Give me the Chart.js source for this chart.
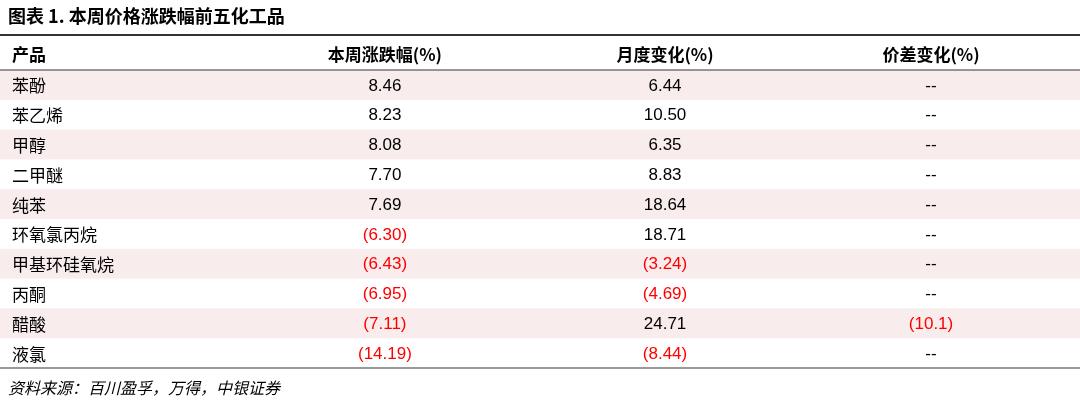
<!DOCTYPE html>
<html>
<head>
<meta charset="utf-8">
<script src="https://cdn.jsdelivr.net/npm/chart.js@4/dist/chart.umd.min.js"></script>
<style>
  html, body { margin: 0; padding: 0; background: #fff; }
  #wrap { width: 1080px; height: 405px; }
</style>
</head>
<body>
<div id="wrap"><canvas id="tbl"></canvas></div>
<script>
// table data
const products = ['苯酚', '苯乙烯', '甲醇', '二甲醚', '纯苯', '环氧氯丙烷', '甲基环硅氧烷', '丙酮', '醋酸', '液氯'];
const weekChange = [8.46, 8.23, 8.08, 7.70, 7.69, -6.30, -6.43, -6.95, -7.11, -14.19];
const monthChange = [6.44, 10.50, 6.35, 8.83, 18.64, 18.71, -3.24, -4.69, 24.71, -8.44];
const spreadChange = [null, null, null, null, null, null, null, null, -10.1, null];
const headers = ['产品', '本周涨跌幅(%)', '月度变化(%)', '价差变化(%)'];
const colX = [0.015, 1.417, 2.47, 3.47];

const title = '图表 1. 本周价格涨跌幅前五化工品';
const source = '资料来源：百川盈孚，万得，中银证券';

const CJK = '"Noto Sans CJK SC", sans-serif';
const NUM = '"Liberation Sans", Arial, sans-serif';

function fmt(v, digits) {
    if (v === null) return '--';
    const s = Math.abs(v).toFixed(digits);
    return v < 0 ? '(' + s + ')' : s;
}
function colour(v) {
    return v !== null && v < 0 ? '#FF0000' : '#000000';
}

function makeSet(col, values, digits, isText) {
    return {
        data: products.map((p, i) => ({ x: colX[col], y: p })),
        labelsText: values.map(v => isText ? v : fmt(v, digits)),
        labelsColor: values.map(v => isText ? '#000' : colour(v)),
        align: col === 0 ? 'left' : 'center',
        font: isText ? '17px ' + CJK : '17px ' + NUM,
        pointRadius: 0
    };
}

const tablePlugin = {
    id: 'tablePlugin',
    beforeDatasetsDraw(chart) {
        const ctx = chart.ctx;
        const y = chart.scales.y;
        const x = chart.scales.x;
        const step = Math.abs(y.getPixelForValue(1) - y.getPixelForValue(0));
        const left = 0, right = 1080;
        ctx.save();
        // alternating row bands
        products.forEach((p, i) => {
            if (i % 2 === 0) {
                const cy = y.getPixelForValue(i);
                ctx.fillStyle = '#F8ECEC';
                ctx.fillRect(left, cy - step / 2, right - left, step);
            }
        });
        // title
        ctx.fillStyle = '#000';
        ctx.font = 'bold 18px ' + CJK;
        ctx.textBaseline = 'middle';
        ctx.textAlign = 'left';
        ctx.fillText(title, 8, 16);
        // rules
        ctx.strokeStyle = '#333';
        ctx.lineWidth = 2;
        ctx.beginPath(); ctx.moveTo(left, 35); ctx.lineTo(right, 35); ctx.stroke();
        ctx.lineWidth = 1;
        ctx.beginPath(); ctx.moveTo(left, y.top); ctx.lineTo(right, y.top); ctx.stroke();
        ctx.beginPath(); ctx.moveTo(left, y.bottom); ctx.lineTo(right, y.bottom); ctx.stroke();
        // header
        ctx.font = 'bold 17px ' + CJK;
        headers.forEach((h, i) => {
            ctx.textAlign = i === 0 ? 'left' : 'center';
            ctx.fillText(h, x.getPixelForValue(colX[i]), 55);
        });
        // source
        ctx.font = 'italic 16px ' + CJK;
        ctx.textAlign = 'left';
        ctx.fillText(source, 8, 388);
        ctx.restore();
    },
    afterDatasetsDraw(chart) {
        const ctx = chart.ctx;
        ctx.save();
        ctx.textBaseline = 'middle';
        chart.data.datasets.forEach((ds, di) => {
            ctx.font = ds.font;
            ctx.textAlign = ds.align;
            chart.getDatasetMeta(di).data.forEach((pt, i) => {
                ctx.fillStyle = ds.labelsColor[i];
                ctx.fillText(ds.labelsText[i], pt.x, pt.y + 1);
            });
        });
        ctx.restore();
    }
};

new Chart(document.getElementById('tbl'), {
    type: 'scatter',
    data: {
        labels: products,
        datasets: [
            makeSet(0, products, 0, true),
            makeSet(1, weekChange, 2, false),
            makeSet(2, monthChange, 2, false),
            makeSet(3, spreadChange, 1, false)
        ]
    },
    options: {
        responsive: true,
        maintainAspectRatio: false,
        animation: false,
        layout: { padding: { left: 8, right: 8, top: 70, bottom: 37 } },
        plugins: { legend: { display: false }, tooltip: { enabled: false } },
        scales: {
            x: { type: 'linear', min: 0, max: 4, display: false },
            y: { type: 'category', labels: products, offset: true, display: false }
        }
    },
    plugins: [tablePlugin]
});
</script>
</body>
</html>
